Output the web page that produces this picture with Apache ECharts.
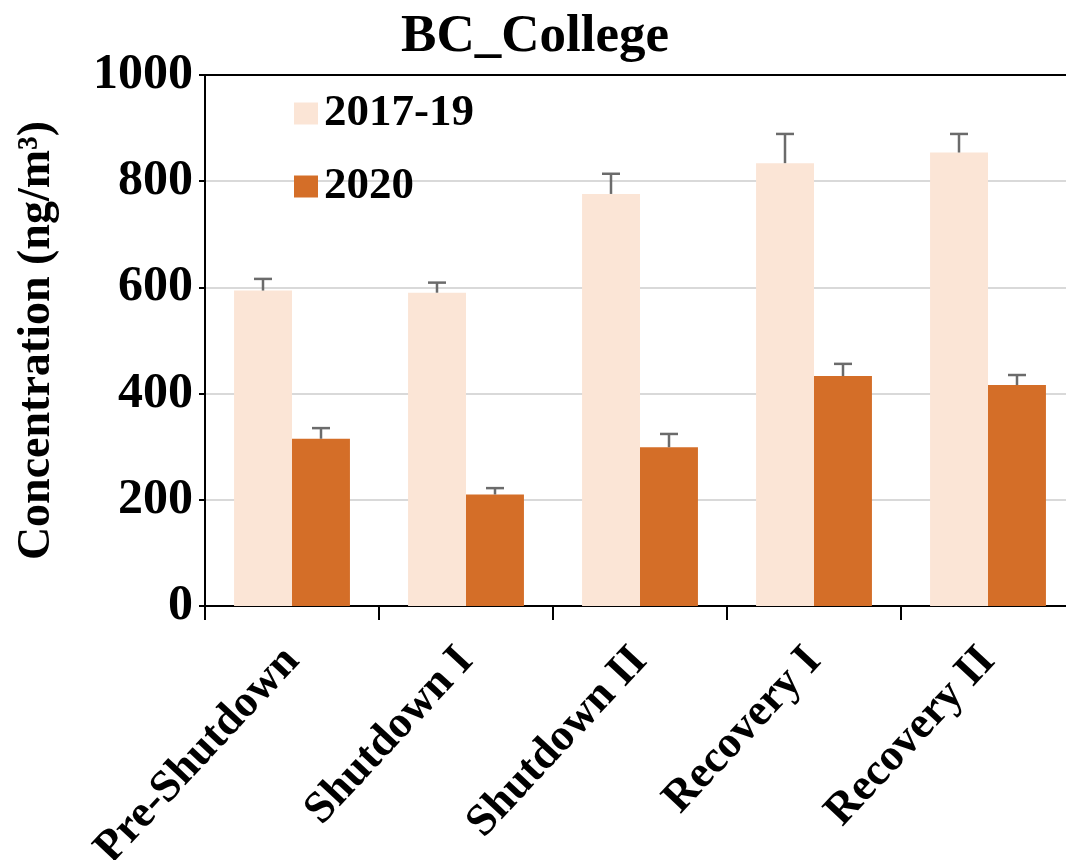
<!DOCTYPE html>
<html>
<head>
<meta charset="utf-8">
<script src="https://cdn.jsdelivr.net/npm/echarts@6/dist/echarts.min.js"></script>
<style>
  html, body { margin: 0; padding: 0; background: #fff; }
  #chart { width: 1066px; height: 860px; }
</style>
</head>
<body>
<div id="chart"></div>
<script>
// Periods along the x axis
const categories = ['Pre-Shutdown', 'Shutdown I', 'Shutdown II', 'Recovery I', 'Recovery II'];
// Mean BC concentration (ng/m3) and the upper error (SD) for each period
const mean2017_19 = [594, 590, 776, 834, 854];
const err2017_19 = [22, 19, 38, 55, 35];
const mean2020 = [315, 210, 299, 433, 416];
const err2020 = [20, 12, 25, 23, 19];
// Y axis ticks
const yTicks = [0, 200, 400, 600, 800, 1000];

const FONT = '"Liberation Serif", "Times New Roman", serif';
const PALE = '#FBE5D6';
const ORANGE = '#D46E28';
const ERR = '#6b6b6b';

const chart = echarts.init(document.getElementById('chart'));

// Upper error whisker with a cap; side = -1 for the left bar of a pair, +1 for the right
function errorBar(means, errs, side) {
  return {
    type: 'custom',
    silent: true,
    z: 5,
    data: means.map((m, i) => [i, m, m + errs[i]]),
    renderItem(params, api) {
      const base = api.coord([api.value(0), api.value(1)]);
      const top = api.coord([api.value(0), api.value(2)]);
      const cat = api.size([1, 0])[0];
      const x = base[0] + side * cat / 6;
      const half = 9;
      const style = { stroke: ERR, lineWidth: 2.5 };
      return {
        type: 'group',
        children: [
          { type: 'line', shape: { x1: x, y1: base[1], x2: x, y2: top[1] }, style },
          { type: 'line', shape: { x1: x - half, y1: top[1], x2: x + half, y2: top[1] }, style }
        ]
      };
    }
  };
}

chart.setOption({
  animation: false,
  backgroundColor: '#fff',
  title: {
    text: 'BC_College',
    left: 530,
    textAlign: 'center',
    top: 6,
    textStyle: { fontFamily: FONT, fontWeight: 'bold', fontSize: 53, color: '#000' }
  },
  legend: {
    orient: 'vertical',
    left: 289,
    top: 86,
    itemWidth: 24,
    itemHeight: 22,
    itemGap: 28,
    icon: 'rect',
    data: ['2017-19', '2020'],
    textStyle: { fontFamily: FONT, fontWeight: 'bold', fontSize: 45, color: '#000', padding: [0, 0, 0, 1] }
  },
  grid: { left: 205, top: 75, width: 870, bottom: 254, containLabel: false, outerBoundsMode: 'none' },
  xAxis: [
    {
      type: 'category',
      data: categories,
      axisLine: { lineStyle: { color: '#000', width: 2 } },
      axisTick: { show: true, length: 14, lineStyle: { color: '#000', width: 2 } },
      axisLabel: {
        interval: 0,
        rotate: 47,
        margin: 48,
        fontFamily: FONT,
        fontWeight: 'bold',
        fontSize: 45,
        color: '#000'
      }
    },
    {
      type: 'category',
      position: 'top',
      data: categories,
      axisLine: { lineStyle: { color: '#000', width: 2 } },
      axisTick: { show: false },
      axisLabel: { show: false }
    }
  ],
  yAxis: {
    type: 'value',
    min: yTicks[0],
    max: yTicks[yTicks.length - 1],
    interval: yTicks[1] - yTicks[0],
    name: 'Concentration (ng/m³)',
    nameLocation: 'middle',
    nameGap: 145,
    nameTextStyle: { fontFamily: FONT, fontWeight: 'bold', fontSize: 46, color: '#000' },
    axisLine: { show: true, lineStyle: { color: '#000', width: 2 } },
    axisTick: { show: true, length: 6, lineStyle: { color: '#000', width: 2 } },
    axisLabel: {
      margin: 12,
      formatter: v => String(v),
      fontFamily: FONT,
      fontWeight: 'bold',
      fontSize: 50,
      color: '#000'
    },
    splitLine: { lineStyle: { color: '#d9d9d9', width: 2 } }
  },
  series: [
    {
      name: '2017-19',
      type: 'bar',
      data: mean2017_19,
      barWidth: '33.3%',
      barGap: '0%',
      itemStyle: { color: PALE }
    },
    {
      name: '2020',
      type: 'bar',
      data: mean2020,
      barWidth: '33.3%',
      barGap: '0%',
      itemStyle: { color: ORANGE }
    },
    errorBar(mean2017_19, err2017_19, -1),
    errorBar(mean2020, err2020, 1)
  ]
});
</script>
</body>
</html>
